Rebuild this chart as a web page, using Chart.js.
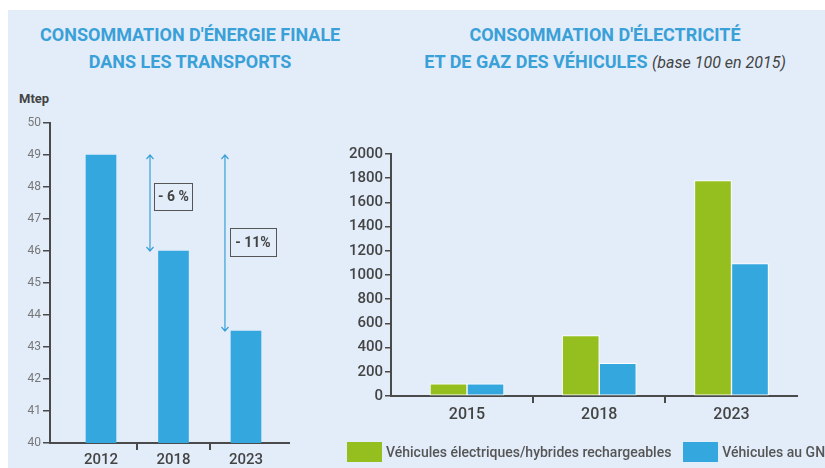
<!DOCTYPE html>
<html>
<head>
<meta charset="utf-8">
<script src="https://cdn.jsdelivr.net/npm/chart.js@4.4.1/dist/chart.umd.min.js"></script>
<style>
  body { margin: 0; width: 825px; height: 468px; background: #fff; position: relative; overflow: hidden; font-family: Roboto, sans-serif; }
  #panel { position: absolute; left: 8px; top: 10px; width: 817px; height: 458px; background: #e2edf9; }
  .title { position: absolute; color: #3aa0d8; font-weight: 700; font-size: 18px; line-height: 27px; text-align: center; white-space: nowrap; }
  #title1 { left: 40px; width: 300px; top: 21px; }
  #title2 { left: 405px; width: 400px; top: 21px; }
  .sub { font-style: italic; font-weight: 400; color: #444; font-size: 16px; }
  #unit { position: absolute; left: 19px; top: 91px; font-size: 13px; font-weight: 700; color: #444; }
  canvas { position: absolute; top: 0; }
  #energy { left: 0; }
  #vehicles { left: 330px; }
  #legend { position: absolute; left: 347px; top: 442px; white-space: nowrap; font-size: 14px; font-weight: 500; color: #555; }
  #legend span.box { display: inline-block; width: 35px; height: 20px; vertical-align: middle; margin-right: 4px; }
  #legend span.item { margin-right: 12px; vertical-align: middle; }
</style>
</head>
<body>
<div id="panel"></div>
<div class="title" id="title1">CONSOMMATION D'ÉNERGIE FINALE<br>DANS LES TRANSPORTS</div>
<div class="title" id="title2">CONSOMMATION D'ÉLECTRICITÉ<br>ET DE GAZ DES VÉHICULES <span class="sub">(base 100 en 2015)</span></div>
<div id="unit">Mtep</div>
<canvas id="energy" width="330" height="468"></canvas>
<canvas id="vehicles" width="495" height="468"></canvas>
<div id="legend"></div>
<script>
// data
const energyYears = ['2012', '2018', '2023'];
const energyMtep = [49.0, 46.0, 43.5];
const changeLabels = ['- 6 %', '- 11%'];

const vehicleYears = ['2015', '2018', '2023'];
const electricIndex = [100, 500, 1780];
const gnvIndex = [100, 270, 1095];
const seriesNames = ['Véhicules électriques/hybrides rechargeables', 'Véhicules au GNV'];

const BLUE = '#35a7df';
const GREEN = '#95bf1f';
const AXIS = '#4a4a4a';

// where the arrows and boxes sit (category index / value units)
const changeLayout = [
    { arrowAt: 0.676, boxAt: 1.0, boxVal: 47.7, w: 38, h: 27 },
    { arrowAt: 1.71, boxAt: 2.097, boxVal: 46.28, w: 46, h: 28 }
];

const hideEdgeTicks = n => c => (c.index > 0 && c.index < n) ? AXIS : 'rgba(0,0,0,0)';

const changePlugin = {
    id: 'changes',
    afterDatasetsDraw(chart) {
        const ctx = chart.ctx;
        const x = chart.scales.x, y = chart.scales.y;
        changeLayout.forEach((a, i) => {
            const ax = x.getPixelForValue(a.arrowAt);
            const y1 = y.getPixelForValue(energyMtep[0]);
            const y2 = y.getPixelForValue(energyMtep[i + 1]);
            ctx.save();
            ctx.strokeStyle = '#3aa0d8';
            ctx.lineWidth = 1.2;
            ctx.beginPath();
            ctx.moveTo(ax, y1); ctx.lineTo(ax, y2);
            ctx.moveTo(ax - 3.5, y1 + 4); ctx.lineTo(ax, y1); ctx.lineTo(ax + 3.5, y1 + 4);
            ctx.moveTo(ax - 3.5, y2 - 4); ctx.lineTo(ax, y2); ctx.lineTo(ax + 3.5, y2 - 4);
            ctx.stroke();

            const bx = x.getPixelForValue(a.boxAt), by = y.getPixelForValue(a.boxVal);
            ctx.strokeStyle = '#555';
            ctx.lineWidth = 1;
            ctx.strokeRect(Math.round(bx - a.w / 2) + 0.5, Math.round(by - a.h / 2) + 0.5, a.w, a.h);
            ctx.fillStyle = '#444';
            ctx.font = '700 14px Roboto';
            ctx.textAlign = 'center';
            ctx.textBaseline = 'middle';
            ctx.fillText(changeLabels[i], bx, by + 1);
            ctx.restore();
        });
    }
};

new Chart(document.getElementById('energy'), {
    type: 'bar',
    data: {
        labels: energyYears,
        datasets: [{ data: energyMtep, backgroundColor: BLUE, barThickness: 30 }]
    },
    options: {
        responsive: false,
        devicePixelRatio: 1,
        animation: false,
        layout: { padding: { left: 0, right: 41, top: 123, bottom: 0 } },
        plugins: { legend: { display: false }, tooltip: { enabled: false } },
        scales: {
            x: {
                offset: true,
                afterBuildTicks: s => { s._startValue = -0.7035; s._valueRange = 3.297; },
                afterFit: s => { s.height = 25; },
                grid: { drawOnChartArea: false, offset: true, tickLength: 7, lineWidth: 2, color: hideEdgeTicks(energyYears.length) },
                border: { color: AXIS, width: 2 },
                ticks: { color: '#444', font: { family: 'Roboto', size: 15, weight: '500' }, padding: 1 }
            },
            y: {
                min: 40, max: 50,
                afterFit: s => { s.width = 50; },
                grid: { drawOnChartArea: false, tickLength: 7, lineWidth: 1.5, color: AXIS },
                border: { color: AXIS, width: 2 },
                ticks: { stepSize: 1, color: '#777', font: { family: 'Roboto', size: 12 }, padding: 2 }
            }
        }
    },
    plugins: [changePlugin]
});

new Chart(document.getElementById('vehicles'), {
    type: 'bar',
    data: {
        labels: vehicleYears,
        datasets: [
            { label: seriesNames[0], data: electricIndex, backgroundColor: GREEN },
            { label: seriesNames[1], data: gnvIndex, backgroundColor: BLUE }
        ]
    },
    options: {
        responsive: false,
        devicePixelRatio: 1,
        animation: false,
        datasets: { bar: { barThickness: 37, borderWidth: 1, borderColor: '#fff', borderSkipped: false } },
        layout: { padding: { left: 0, right: 28, top: 154, bottom: 42 } },
        plugins: { legend: { display: false }, tooltip: { enabled: false } },
        scales: {
            x: {
                offset: true,
                afterBuildTicks: s => { s._startValue = -0.5747; s._valueRange = 3.070; },
                afterFit: s => { s.height = 30; },
                grid: { drawOnChartArea: false, offset: true, tickLength: 7, lineWidth: 2, color: hideEdgeTicks(vehicleYears.length) },
                border: { color: AXIS, width: 2 },
                ticks: { color: '#444', font: { family: 'Roboto', size: 16, weight: '500' }, padding: 2 }
            },
            y: {
                min: 0, max: 2000,
                afterFit: s => { s.width = 61; },
                grid: { drawOnChartArea: false, tickLength: 6, lineWidth: 1.5, color: AXIS },
                border: { color: AXIS, width: 2 },
                ticks: { stepSize: 200, callback: v => String(v), color: '#444', font: { family: 'Roboto', size: 15, weight: '500' }, padding: 2 }
            }
        }
    }
});

// legend
const legendColors = [GREEN, BLUE];
document.getElementById('legend').innerHTML = seriesNames.map((n, i) =>
    `<span class="box" style="background:${legendColors[i]}"></span><span class="item">${n}</span>`).join('');
</script>
</body>
</html>
